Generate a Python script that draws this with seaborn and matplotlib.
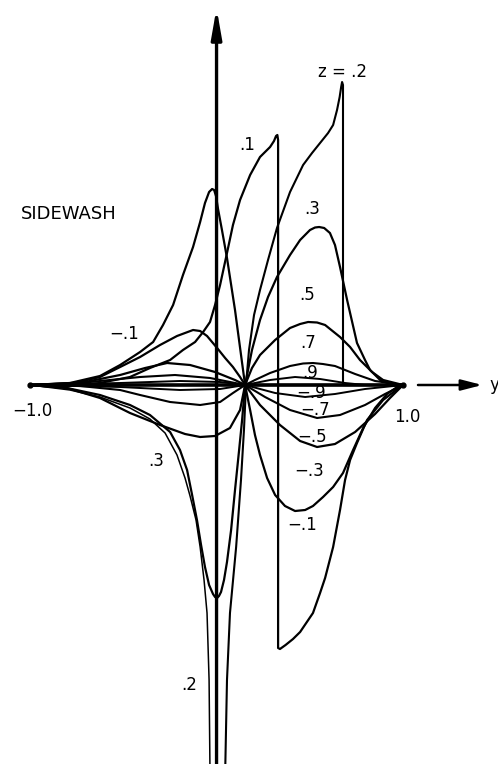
import matplotlib
matplotlib.use("Agg")
import matplotlib.pyplot as plt
import seaborn as sns

# Sidewash v against spanwise station y, one trace per height z.
# Traces that jump or blow up are split into pieces.

# z = .2
y_z02_left = [-1.0, -0.786, -0.625, -0.464, -0.357, -0.276, -0.212, -0.169, -0.142, -0.110, -0.088, -0.067, -0.051, -0.040, -0.035]
v_z02_left = [0.0, -0.05, -0.12, -0.23, -0.34, -0.48, -0.70, -0.93, -1.11, -1.35, -1.62, -1.95, -2.28, -2.95, -3.90]
y_z02_right = [0.046, 0.056, 0.072, 0.105, 0.131, 0.147, 0.158, 0.174, 0.201, 0.233, 0.276, 0.324, 0.394, 0.464, 0.512, 0.555, 0.598, 0.625, 0.646, 0.660, 0.668, 0.673, 0.678, 0.678, 1.0]
v_z02_right = [-3.90, -2.95, -2.28, -1.62, -0.95, -0.45, 0.0, 0.35, 0.70, 0.95, 1.25, 1.57, 1.93, 2.20, 2.32, 2.42, 2.52, 2.60, 2.75, 2.88, 2.98, 3.03, 3.00, 0.0, 0.0]

# z = .1
y_z01 = [-1.0, -0.802, -0.625, -0.464, -0.357, -0.249, -0.180, -0.115, -0.072, -0.035, -0.008, 0.019, 0.056, 0.088, 0.126, 0.180, 0.233, 0.287, 0.308, 0.319, 0.326, 0.330, 0.330, 1.0]
v_z01 = [0.0, -0.01, 0.02, 0.08, 0.17, 0.25, 0.35, 0.43, 0.53, 0.63, 0.80, 1.00, 1.32, 1.60, 1.85, 2.10, 2.28, 2.38, 2.44, 2.49, 2.50, 2.45, 0.0, 0.0]

# z = .3
y_z03 = [-1.0, -0.802, -0.625, -0.464, -0.357, -0.249, -0.196, -0.158, -0.131, -0.105, -0.083, -0.062, -0.040, -0.019, -0.008, 0.003, 0.013, 0.024, 0.040, 0.056, 0.078, 0.099, 0.121, 0.137, 0.153, 0.190, 0.233, 0.276, 0.324, 0.394, 0.448, 0.501, 0.528, 0.550, 0.577, 0.608, 0.635, 0.662, 0.700, 0.753, 0.796, 0.823, 0.877, 0.930, 1.0]
v_z03 = [0.0, -0.03, -0.10, -0.20, -0.30, -0.47, -0.65, -0.85, -1.10, -1.35, -1.60, -1.82, -2.00, -2.09, -2.12, -2.13, -2.11, -2.07, -1.95, -1.77, -1.45, -1.05, -0.65, -0.35, 0.0, 0.35, 0.65, 0.88, 1.08, 1.30, 1.45, 1.55, 1.575, 1.58, 1.57, 1.52, 1.40, 1.18, 0.85, 0.42, 0.25, 0.15, 0.05, 0.01, 0.0]

# z = .5
y_z05 = [-1.0, -0.802, -0.625, -0.464, -0.303, -0.169, -0.088, -0.008, 0.072, 0.126, 0.153, 0.190, 0.233, 0.314, 0.394, 0.448, 0.491, 0.539, 0.582, 0.662, 0.716, 0.769, 0.834, 0.893, 1.0]
v_z05 = [0.0, -0.03, -0.13, -0.28, -0.40, -0.49, -0.52, -0.51, -0.43, -0.25, 0.0, 0.17, 0.30, 0.45, 0.57, 0.61, 0.63, 0.625, 0.60, 0.48, 0.38, 0.25, 0.13, 0.05, 0.0]

# z = .7
y_z07 = [-1.0, -0.732, -0.517, -0.410, -0.249, -0.088, 0.019, 0.088, 0.153, 0.206, 0.287, 0.394, 0.464, 0.517, 0.570, 0.635, 0.743, 0.850, 1.0]
v_z07 = [0.0, -0.01, -0.05, -0.10, -0.17, -0.20, -0.17, -0.08, 0.0, 0.05, 0.12, 0.19, 0.215, 0.22, 0.21, 0.19, 0.11, 0.04, 0.0]

# z = .9
y_z09 = [-1.0, -0.517, -0.196, 0.019, 0.153, 0.287, 0.421, 0.555, 0.689, 0.796]
v_z09 = [0.0, -0.02, -0.05, -0.04, 0.0, 0.05, 0.08, 0.06, 0.02, 0.0]

# z = -.1
y_zm01 = [-1.0, -0.786, -0.625, -0.517, -0.410, -0.340, -0.287, -0.233, -0.180, -0.126, -0.088, -0.062, -0.040, -0.024, -0.013, -0.003, 0.008, 0.029, 0.056, 0.099, 0.137, 0.153, 0.330, 0.330, 0.340, 0.370, 0.410, 0.448, 0.517, 0.555, 0.582, 0.625, 0.662, 0.689, 0.716, 0.753, 0.807, 0.893, 0.984, 1.0]
v_zm01 = [0.0, 0.02, 0.09, 0.20, 0.33, 0.43, 0.60, 0.80, 1.10, 1.38, 1.63, 1.82, 1.93, 1.96, 1.95, 1.89, 1.76, 1.55, 1.27, 0.75, 0.22, 0.0, 0.0, -2.63, -2.64, -2.60, -2.54, -2.47, -2.28, -2.08, -1.93, -1.62, -1.25, -0.95, -0.75, -0.58, -0.35, -0.15, -0.02, 0.0]

# z = -.3
y_zm03 = [-1.0, -0.786, -0.625, -0.517, -0.410, -0.303, -0.212, -0.126, -0.088, -0.051, 0.003, 0.046, 0.088, 0.126, 0.153, 0.180, 0.206, 0.233, 0.271, 0.314, 0.367, 0.421, 0.475, 0.517, 0.571, 0.625, 0.678, 0.732, 0.786, 0.850, 0.914, 0.968, 1.0]
v_zm03 = [0.0, 0.01, 0.08, 0.18, 0.28, 0.40, 0.49, 0.55, 0.54, 0.49, 0.37, 0.27, 0.18, 0.08, 0.0, -0.25, -0.50, -0.70, -0.93, -1.10, -1.21, -1.26, -1.25, -1.21, -1.12, -1.02, -0.88, -0.65, -0.43, -0.23, -0.09, -0.02, 0.0]

# z = -.5
y_zm05 = [-1.0, -0.732, -0.517, -0.383, -0.265, -0.142, -0.008, 0.099, 0.153, 0.233, 0.340, 0.448, 0.539, 0.635, 0.743, 0.850, 0.930, 1.0]
v_zm05 = [0.0, 0.02, 0.10, 0.17, 0.22, 0.20, 0.13, 0.05, 0.0, -0.20, -0.40, -0.56, -0.62, -0.59, -0.47, -0.29, -0.13, 0.0]

# z = -.7
y_zm07 = [-1.0, -0.678, -0.410, -0.223, -0.035, 0.153, 0.260, 0.394, 0.539, 0.662, 0.796, 0.903, 1.0]
v_zm07 = [0.0, 0.03, 0.08, 0.10, 0.07, 0.0, -0.12, -0.25, -0.33, -0.30, -0.20, -0.09, 0.0]

# z = -.9
y_zm09 = [-1.0, -0.517, -0.196, 0.019, 0.153, 0.314, 0.475, 0.635, 0.796, 1.0]
v_zm09 = [0.0, 0.02, 0.04, 0.03, 0.0, -0.08, -0.12, -0.09, -0.04, 0.0]

traces = [
    (y_z02_left, v_z02_left, 1.1),
    (y_z02_right, v_z02_right, 1.5),
    (y_z01, v_z01, 1.6),
    (y_z03, v_z03, 1.6),
    (y_z05, v_z05, 1.6),
    (y_z07, v_z07, 1.5),
    (y_z09, v_z09, 1.4),
    (y_zm01, v_zm01, 1.6),
    (y_zm03, v_zm03, 1.6),
    (y_zm05, v_zm05, 1.6),
    (y_zm07, v_zm07, 1.5),
    (y_zm09, v_zm09, 1.4),
]

# curve labels: text, y, v
label_text = ["z = .2", ".1", ".3", ".5", ".7", ".9", "\u2212.1", ".3", ".2", "\u2212.9", "\u2212.7", "\u2212.5", "\u2212.3", "\u2212.1"]
label_y = [0.673, 0.164, 0.512, 0.485, 0.490, 0.501, -0.496, -0.324, -0.147, 0.507, 0.528, 0.512, 0.496, 0.458]
label_v = [3.13, 2.40, 1.76, 0.90, 0.42, 0.12, 0.51, -0.76, -3.00, -0.08, -0.25, -0.52, -0.86, -1.40]

tick_text = ["\u22121.0", "1.0"]
tick_y = [-0.989, 1.021]
tick_v = [-0.26, -0.32]

sns.set_theme(style="white")
plt.rcParams["font.family"] = ["DejaVu Sans"]
plt.rcParams["text.color"] = "black"

fig = plt.figure(figsize=(4.98, 7.64), dpi=100)
ax = fig.add_axes([0, 0, 1, 1])

for ys, vs, lw in traces:
    sns.lineplot(x=ys, y=vs, sort=False, estimator=None, color="black",
                 linewidth=lw, ax=ax, solid_joinstyle="round")

# spanwise axis between the tips, then the y arrow
ax.plot([-1.0, 1.0], [0.0, 0.0], color="black", lw=2.6, solid_capstyle="round")
ax.plot([-1.0, 1.0], [0.0, 0.0], "o", color="black", ms=3.5)
ax.annotate("", xy=(1.425, 0.0), xytext=(1.08, 0.0),
            arrowprops=dict(arrowstyle="-|>,head_length=0.7,head_width=0.18",
                            color="black", lw=1.8, mutation_scale=18,
                            shrinkA=0, shrinkB=0))
ax.text(1.462, 0.0, "y", fontsize=12, ha="left", va="center", color="black")

# sidewash axis
ax.annotate("", xy=(0.0, 3.77), xytext=(0.0, -3.9),
            arrowprops=dict(arrowstyle="-|>,head_length=0.8,head_width=0.14",
                            color="black", lw=2.4, mutation_scale=22,
                            shrinkA=0, shrinkB=0))

ax.text(-0.791, 1.71, "SIDEWASH", fontsize=13, ha="center", va="center", color="black")

for t, x, v in zip(label_text, label_y, label_v):
    ax.text(x, v, t, fontsize=12, ha="center", va="center", color="black")
for t, x, v in zip(tick_text, tick_y, tick_v):
    ax.text(x, v, t, fontsize=12, ha="center", va="center", color="black")

ax.set_xlim(-1.161, 1.509)
ax.set_ylim(-3.79, 3.85)
ax.axis("off")

fig.savefig("out.png", dpi=100, facecolor="white")
